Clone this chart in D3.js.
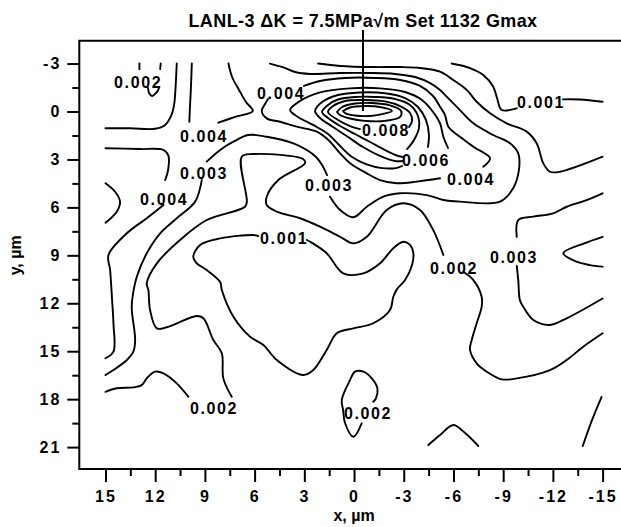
<!DOCTYPE html>
<html>
<head>
<meta charset="utf-8">
<script src="https://cdn.jsdelivr.net/npm/d3@7"></script>
<style>
  body { margin: 0; background: #fff; }
  text { font-family: "Liberation Sans", Arial, Helvetica, sans-serif; fill: #000; }
</style>
</head>
<body>
<svg id="chart" width="621" height="527"></svg>
<script>
// Axis ticks (µm)
const xTicks = [15, 12, 9, 6, 3, 0, -3, -6, -9, -12, -15];
const xMinorTicks = [13.5, 10.5, 7.5, 4.5, 1.5, -1.5, -4.5, -7.5, -10.5, -13.5];
const yTicks = [-3, 0, 3, 6, 9, 12, 15, 18, 21];
const yMinorTicks = [-1.5, 1.5, 4.5, 7.5, 10.5, 13.5, 16.5, 19.5];

const titleText = "LANL-3 \u0394K = 7.5MPa\u221Am  Set 1132 Gmax";
// crack-tip pointer: x position and vertical span (µm)
const pointerX = -0.54;
const pointerY = [-5.1, -0.03];

// Contour polylines, [x, y] in µm
const c001Top = [[-5.89,-3],[-7.0,-2.72],[-7.8,-2.28],[-8.4,-1.55],[-8.63,-0.84],[-8.91,-0.09],[-9.82,-0.2]];
const c001TopEnd = [[-12.61,-0.76],[-13.63,-0.75],[-15,-0.61]];
const c001Loop = [[2.85,8.04],[2.65,8.15],[1.65,8.87],[0.65,10.13],[-0.56,10.13],[-1.57,9.5],[-2.37,8.56],[-2.97,8.15],[-3.38,8.35],[-3.58,8.87],[-3.5,9.61],[-3.08,10.55],[-2.58,11.13],[-2.37,11.59],[-2.17,12.42],[-1.16,13.25],[0.04,13.57],[1.04,13.88],[1.65,14.92],[2.46,16.18],[3.06,16.49],[4.66,15.55],[5.47,14.61],[6.27,14.09],[7.28,12.84],[7.98,11.17],[8.08,10.67],[8.89,9.92],[9.49,9.5],[9.7,9.09],[9.29,8.35],[8.08,7.94],[6.08,7.73],[5.79,7.79]];

const c002Top = [[2.17,-3],[0.84,-2.85],[-1.15,-2.78],[-2.78,-2.78],[-3.98,-2.72],[-5.19,-2.49],[-5.99,-1.97],[-6.8,-1.35],[-7.4,-0.61],[-8.21,0.11],[-9.21,0.74],[-10.42,1.26],[-11.02,1.99],[-11.42,3.24],[-11.82,3.77],[-12.43,3.77],[-15,2.83]];
const c002Left = [[10.7,-3],[10.78,-1.35],[10.86,-0.41],[11.04,0.28],[11.4,0.84],[12.01,1.08],[13.51,1.05],[15,1.05]];
const c002Dash1 = [[12.95,-3],[12.95,-2.65]];
const c002Dash2 = [[11.67,-3],[11.7,-2.65]];
const c002Curl = [[12.43,-1.47],[12.37,-1.16],[12.19,-0.97],[12.01,-1.1],[11.82,-1.35],[11.76,-1.53]];
const c002Main = [[7.38,17.85],[7.89,16.7],[7.98,15.13],[8.49,14.3],[9.09,12.94],[9.49,12.8],[11.3,13.5],[11.9,13.57],[12.31,12.42],[12.41,11.17],[12.51,10.75],[11.9,9.5],[10.5,8.04],[8.89,6.79],[6.58,5.96],[6.47,5.64],[6.78,2.83],[6.08,2.66],[3.06,2.99],[2.96,3.24],[4.57,4.29],[5.27,5.33],[5.27,5.85],[4.66,6.27],[3.26,6.68],[2.05,7.21],[0.84,7.84],[0.04,8.25],[-0.77,7.84],[-1.97,6.16],[-2.97,5.74],[-3.98,6.16],[-4.78,7.42],[-5.39,8.98]];
const c002Right = [[-6.59,10.03],[-7.2,10.55],[-7.7,11.59],[-7.7,12.22],[-7.4,13.25],[-7.1,14.3],[-7.0,14.92],[-7.4,15.76],[-8.01,16.28],[-8.91,16.76],[-9.82,16.7],[-11.82,16.18],[-12.83,15.55],[-13.83,14.72],[-15,13.88]];
const c002LowerLeft = [[15,17.54],[14.32,17.32],[13.32,17.26],[12.81,17.12],[12.51,16.7],[12.01,16.28],[11.5,16.38],[10.7,17.01],[10.0,17.85]];
const c002Small = [[-1.16,18.16],[-1.33,17.93],[-1.41,17.32],[-1.07,16.7],[-0.56,16.28],[-0.06,16.28],[0.24,16.8],[0.74,18.05],[0.66,18.68],[0.54,19.51],[0.04,20.35],[-0.46,19.51]];
const c002Bottom = [[-4.48,20.87],[-5.19,20.24],[-5.99,19.62],[-6.7,20.12],[-7.5,20.93]];
const c002Corner = [[-13.8,20.93],[-14.36,19.31],[-14.94,17.85]];

const c003Ring = [[8.89,3.14],[8.08,2.41],[7.28,1.89],[6.38,1.47],[5.27,1.58],[3.66,1.99],[2.85,2.41],[2.29,2.85],[1.93,3.35],[1.63,3.98]];
const c003RingB = [[1.45,5.33],[0.84,6.16],[0.04,6.62],[-0.77,5.96],[-1.77,5.33],[-2.78,5.12],[-4.39,5.23],[-5.39,5.54],[-6.39,5.64],[-8.81,5.64],[-9.61,4.79],[-9.95,3.66],[-9.91,2.62],[-9.41,1.99],[-8.4,1.47],[-7.2,0.74],[-6.39,-0.09],[-5.59,-0.93],[-5.19,-1.35],[-4.59,-1.78],[-3.68,-2.16],[-2.47,-2.35],[-0.97,-2.41],[0.84,-2.41],[2.65,-2.35],[3.56,-2.47],[4.27,-2.76],[5.07,-3]];
const c003Left = [[9.19,4.29],[9.59,5.64],[10.7,6.68],[11.7,7.62],[12.51,8.87],[13.11,10.34],[13.39,11.81],[13.41,12.43],[13.21,14.3],[13.32,15.03],[13.71,15.55],[14.52,16.18],[15,16.49]];
const c003Right = [[-15,5.12],[-14.04,5.54],[-12.83,5.96],[-12.02,6.37],[-10.82,6.58],[-9.91,6.79],[-9.82,7.84]];
const c003RightLow = [[-9.82,9.67],[-9.91,10.55],[-10.01,11.81],[-10.21,12.22],[-10.82,13.05],[-11.82,13.36],[-12.83,12.94],[-15,11.7]];
const c003Edge = [[-15,7.84],[-13.89,8.25],[-12.63,8.87],[-13.43,9.4],[-14.24,9.61],[-15,9.71]];
const c003Edge2 = [[15,4.49],[14.42,5.02],[14.12,5.64],[14.32,6.27],[15,6.96]];

const c004Left = [[15,2.3],[12.91,2.35],[11.5,2.41],[11.2,2.78],[11.22,3.66],[11.4,4.29]];
const c004LeftLow = [[11.5,5.85],[12.51,6.68],[13.71,7.62],[14.82,8.98],[14.72,9.92],[14.6,11.81],[14.52,13.25],[14.52,15.03],[15,15.44]];
const c004Dip = [[9.79,-3],[9.85,-1.35],[9.91,-0.09],[9.94,0.64]];
const c004DipB = [[7.58,-3],[7.36,-2.16],[6.94,-1.35],[6.52,-0.59],[6.11,-0.03],[7.18,0.34],[8.19,0.7]];
const c004Ring = [[3.02,-1.6],[2.05,-1.91],[0.54,-2.1],[-1.27,-2.1],[-2.78,-1.97],[-3.98,-1.6],[-4.77,-0.97],[-5.19,-0.3],[-5.49,0.22],[-5.69,0.95],[-6.39,1.58],[-7.2,2.2],[-8.21,2.93],[-7.8,3.45]];
const c004RingB = [[-5.19,4.18],[-3.78,4.39],[-2.58,4.49],[-1.57,4.29],[-0.77,3.87],[0.24,3.24],[0.84,2.62],[1.55,1.78],[2.25,1.26],[3.46,0.95],[4.46,0.64],[5.27,0.43],[5.57,-0.05],[5.37,-0.47],[5.19,-0.78]];

// nested contours around the peak
const c005 = [[-5.67,2.28],[-5.39,1.58],[-5.19,0.74],[-4.77,0.03],[-4.1,-0.72],[-3.08,-1.22],[-1.57,-1.45],[0.24,-1.45],[2.05,-1.2],[3.26,-0.66],[3.86,-0.09],[3.38,0.34],[2.47,0.84],[1.57,1.41],[0.84,2.16],[0.12,2.85],[-0.72,3.29],[-1.69,3.54],[-2.53,3.54],[-2.9,3.41]];
const c006 = [[-4.46,2.22],[-4.52,1.47],[-4.34,0.53],[-3.86,-0.28],[-3.08,-0.84],[-1.87,-1.14],[-0.36,-1.19],[0.97,-1.03],[1.93,-0.59],[2.35,-0.03],[2.05,0.41],[1.27,0.97],[0.36,1.6],[-0.54,2.22],[-1.57,2.78],[-2.47,3.1],[-2.96,3.1]];
const c007 = [[-3.2,2.35],[-3.62,1.78],[-3.92,1.03],[-3.86,0.28],[-3.38,-0.41],[-2.47,-0.78],[-1.27,-0.91],[-0.06,-0.91],[0.97,-0.75],[1.57,-0.41],[1.93,0.03],[1.57,0.41],[0.84,0.91],[-0.06,1.41],[-0.97,1.91],[-1.87,2.41],[-2.65,2.78],[-2.96,2.85]];
const c008 = [[-0.36,1.1],[0.24,0.91],[0.97,0.53],[1.57,0.03],[1.27,-0.34],[0.54,-0.66],[-0.66,-0.72],[-1.87,-0.63],[-2.78,-0.34],[-3.38,0.09],[-3.5,0.59],[-3.32,0.97]];
const c009 = [[1.03,0.03],[0.72,-0.28],[-0.06,-0.5],[-1.09,-0.53],[-2.17,-0.38],[-2.84,-0.03],[-2.78,0.34],[-1.87,0.59],[-0.66,0.59],[0.24,0.44],[0.84,0.22],[1.03,0.03]];
const c010 = [[0.66,-0.03],[0.24,-0.25],[-0.66,-0.34],[-1.57,-0.28],[-2.29,-0.03],[-1.69,0.16],[-0.97,0.28],[-0.06,0.25],[0.48,0.13],[0.66,-0.03]];

const contourLines = [
  c001Top, c001TopEnd, c001Loop,
  c002Top, c002Left, c002Dash1, c002Dash2, c002Curl, c002Main, c002Right,
  c002LowerLeft, c002Small, c002Bottom, c002Corner,
  c003Ring, c003RingB, c003Left, c003Right, c003RightLow, c003Edge, c003Edge2,
  c004Left, c004LeftLow, c004Dip, c004DipB, c004Ring, c004RingB,
  c005, c006, c007, c008, c009, c010
];

// Contour level labels: text and position (µm)
const labelText = ["0.002","0.004","0.004","0.008","0.001","0.003","0.004","0.003","0.006","0.004","0.001","0.002","0.003","0.002","0.002"];
const labelX    = [13.09, 4.46, 9.11, -1.87, -11.22, 9.11, 11.52, 1.57, -4.28, -7.0, 4.28, -5.97, -9.59, 8.51, -0.78];
const labelY    = [-1.85, -1.16, 1.53, 1.16, -0.59, 3.85, 5.48, 4.6, 3.04, 4.22, 7.92, 9.79, 9.11, 18.55, 18.87];

const svg = d3.select("#chart");

const x = d3.scaleLinear().domain([16.58, -16.11]).range([79.3, 621]);
const y = d3.scaleLinear().domain([-4.43, 22.37]).range([40.7, 469]);

const lineGen = d3.line()
  .x(d => x(d[0]))
  .y(d => y(d[1]))
  .curve(d3.curveCatmullRom.alpha(0.5));

// contours
svg.append("g")
  .selectAll("path")
  .data(contourLines)
  .join("path")
  .attr("d", lineGen)
  .attr("fill", "none")
  .attr("stroke", "#000")
  .attr("stroke-width", 1.9)
  .attr("stroke-linejoin", "round")
  .attr("stroke-linecap", "round");

// level labels
svg.append("g")
  .selectAll("text")
  .data(labelText)
  .join("text")
  .attr("x", (d, i) => x(labelX[i]) + 1)
  .attr("y", (d, i) => y(labelY[i]))
  .attr("dy", "0.36em")
  .attr("text-anchor", "middle")
  .attr("font-size", 16)
  .attr("font-weight", "bold")
  .attr("letter-spacing", "1.6px")
  .text(d => d);

// frame
const [x0, x1] = x.range();
const [y0, y1] = y.range();
svg.append("path")
  .attr("d", `M${x1},${y0}H${x0}V${y1}H${x1}`)
  .attr("fill", "none")
  .attr("stroke", "#000")
  .attr("stroke-width", 2);

// axes: major ticks with labels, minor ticks without
const fmt = d => String(d);
svg.append("g").attr("transform", `translate(0,${y1})`)
  .call(d3.axisBottom(x).tickValues(xTicks).tickSize(13).tickPadding(9).tickFormat(fmt));
svg.append("g").attr("transform", `translate(0,${y1})`)
  .call(d3.axisBottom(x).tickValues(xMinorTicks).tickSize(7).tickFormat(""));

svg.append("g").attr("transform", `translate(${x0},0)`)
  .call(d3.axisLeft(y).tickValues(yTicks).tickSize(12).tickPadding(6).tickFormat(fmt));
svg.append("g").attr("transform", `translate(${x0},0)`)
  .call(d3.axisLeft(y).tickValues(yMinorTicks).tickSize(7).tickFormat(""));

svg.selectAll(".domain").remove();
svg.selectAll(".tick line").attr("stroke", "#000").attr("stroke-width", 2);
svg.selectAll(".tick text")
  .attr("font-family", "Liberation Sans, Arial, sans-serif")
  .attr("font-size", 16)
  .attr("font-weight", "bold")
  .attr("letter-spacing", "2px")
  .attr("fill", "#000");

// axis titles
svg.append("text")
  .attr("x", x(0))
  .attr("y", 521)
  .attr("text-anchor", "middle")
  .attr("font-size", 16)
  .attr("font-weight", "bold")
  .text("x, \u00B5m");

svg.append("text")
  .attr("transform", `translate(21,${y(9)}) rotate(-90)`)
  .attr("text-anchor", "middle")
  .attr("font-size", 16)
  .attr("font-weight", "bold")
  .text("y, \u00B5m");

// title and pointer
svg.append("text")
  .attr("x", 363)
  .attr("y", 27)
  .attr("text-anchor", "middle")
  .attr("font-size", 18)
  .attr("font-weight", "bold")
  .attr("letter-spacing", "0.4px")
  .text(titleText);

svg.append("line")
  .attr("x1", x(pointerX)).attr("x2", x(pointerX))
  .attr("y1", y(pointerY[0])).attr("y2", y(pointerY[1]))
  .attr("stroke", "#000")
  .attr("stroke-width", 2);
</script>
</body>
</html>
